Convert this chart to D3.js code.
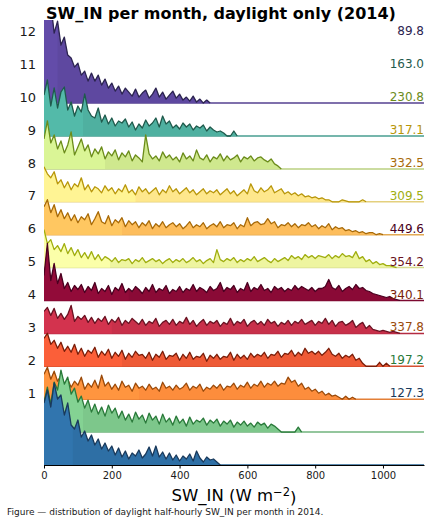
<!DOCTYPE html>
<html lang="en">
<head>
<meta charset="UTF-8">
<title>SW_IN per month</title>
<style>
  body { margin: 0; background: #fff; }
  svg { font-family: "DejaVu Sans", sans-serif; }
</style>
<script src="https://d3js.org/d3.v7.min.js"></script>
</head>
<body>
<div id="chart"></div>
<script>
// histogram counts per month, bins of 10 W m-2 starting at 0
const binWidth = 10;
const months = ["1", "2", "3", "4", "5", "6", "7", "8", "9", "10", "11", "12"];

const jan = [62,75,58,82,66,70,50,62,40,36, 45,28,34,24,30,20,26,16,22,14, 19,10,17,8,14,6,12,9,15,7,
  11,18,9,19,8,13,6,12,5,10, 4,9,6,11,4,14,7,3,8,5, 6,3];
const feb = [30,45,28,50,42,62,48,55,38,44, 30,36,24,32,20,28,18,25,16,27, 19,24,14,21,12,18,10,20,13,17,
  9,19,12,16,8,18,10,14,7,16, 9,13,6,15,8,12,10,14,7,12, 9,13,6,11,8,12,5,10,7,11,
  6,9,5,10,7,9,4,8,6,3, 0,0,0,0,0,5];
const mar = [25,32,20,28,18,24,15,20,12,18, 14,22,10,16,12,19,11,24,13,17, 10,15,9,18,12,14,8,16,11,13,
  9,15,10,12,8,17,11,13,9,14, 10,12,16,9,13,11,15,8,12,10, 14,11,15,9,13,12,16,10,14,12,
  17,11,15,13,18,12,16,14,18,13, 16,15,22,17,19,13,16,10,12,8, 10,6,8,4,6,3,4,2,0,3, 0,2];
const apr = [28,33,22,26,18,24,15,20,14,22, 12,18,10,16,13,19,9,15,11,17, 8,14,10,16,7,13,9,15,11,12,
  8,14,6,12,9,15,7,11,10,13, 6,12,8,14,7,10,9,13,5,11, 8,12,7,10,9,14,6,12,8,11,
  7,13,9,12,10,14,8,12,11,15, 9,13,12,16,10,14,11,18,13,15, 12,15,11,14,18,12,10,13,8,11,
  9,12,6,8,3,0,0,0,0,4, 0,3];
const may = [22,26,18,25,15,20,14,19,28,12, 17,14,18,11,16,10,15,12,17,9, 14,11,16,8,13,10,15,12,9,14,
  8,12,10,15,7,11,13,9,14,8, 12,10,16,9,13,7,11,14,8,12, 10,13,7,11,9,15,8,12,10,14,
  7,11,13,9,12,8,14,10,12,7, 11,9,13,8,12,10,14,9,11,13, 8,12,10,15,9,13,7,11,12,8,
  10,13,6,9,11,5,8,4,3,2, 3,2,1,2,1];
const jun = [25,57,20,37,17,27,12,18,9,15, 11,16,8,14,10,18,7,12,9,15, 6,13,10,17,8,12,9,14,11,7,
  13,9,16,8,12,10,15,7,11,9, 14,8,12,10,16,9,13,11,8,14, 10,12,18,9,13,11,15,8,12,10,
  18,9,13,11,16,10,12,8,14,11, 13,9,12,10,15,11,14,12,10,13, 9,12,12,14,21,13,11,15,9,12,
  14,11,16,12,13,10,9,7,6,5, 4,3,4,2,1];
const jul = [38,24,28,18,22,16,24,14,20,12, 18,10,15,9,16,8,13,7,11,9, 6,10,5,8,7,9,4,8,6,10,
  5,7,9,6,8,4,7,9,5,8, 6,9,5,7,10,6,8,4,7,9, 5,18,8,6,9,7,10,5,8,6,
  9,7,11,6,8,10,7,5,9,6, 8,10,7,12,9,11,8,13,10,12, 9,12,11,10,13,9,12,10,14,11,
  12,10,16,9,11,6,8,4,6,3, 4,2,2,1];
const aug = [28,35,22,30,18,25,16,22,14,20, 12,18,15,21,10,16,23,13,11,19, 9,15,12,17,8,14,10,13,7,12,
  9,14,6,11,8,13,7,10,12,8, 11,6,9,13,7,10,8,12,6,9, 11,8,13,7,10,9,12,6,10,8,
  17,9,12,13,10,11,16,11,13,7, 10,9,12,8,11,7,10,9,12,8, 10,6,9,7,11,5,8,6,7,4,
  5,3,4,2,3,1,2,2,0,1];
const sep = [35,28,24,30,18,22,14,20,12,18, 15,24,12,17,10,15,13,9,16,11, 14,8,13,10,17,9,12,7,15,10,
  13,8,11,14,7,12,9,16,10,13, 8,11,14,9,12,7,10,13,8,11, 9,12,7,10,13,8,11,6,9,12,
  8,18,11,9,14,10,12,16,9,11, 13,8,10,7,9,6,8,5,6,4, 5,3,4,2,2,0,0,0,2,1, 0,0,0,0,2];
const oct = [30,48,26,34,20,28,16,24,37,14, 22,30,18,24,12,20,15,22,10,17, 13,19,9,16,12,18,8,14,11,7,
  34,15,10,13,8,17,11,14,9,12, 7,16,10,13,8,19,11,9,14,7, 12,10,15,8,13,9,11,14,7,12,
  10,13,8,11,12,9,7,10,5,3];
const nov = [41,56,30,48,28,44,49,26,34,20, 30,24,42,26,20,18,28,14,21,12, 18,10,15,13,17,9,14,6,12,8,
  16,10,13,18,9,20,12,15,8,11, 7,13,9,12,6,10,8,11,5,9, 6,4,5,3,0,0,5];
const dec = [95,85,100,70,82,58,66,48,45,36, 40,28,32,22,30,22,28,18,24,15, 20,12,17,9,15,11,7,14,6,10,
  13,5,9,15,6,11,4,8,12,5, 9,3,6,2,7,1,4,0,3];

const monthCounts = [jan, feb, mar, apr, may, jun, jul, aug, sep, oct, nov, dec];

// mean SW_IN per month
const monthMeans = [127.3, 197.2, 337.8, 340.1, 354.2, 449.6, 309.5, 332.5, 317.1, 230.8, 163.0, 89.8];
// value where the lighter part of each fill ends
const lowerQuartiles = [85, 115, 280, 230, 200, 250, 195, 230, 270, 180, 115, 40];

const fillColors = ["#2e6fa5", "#7dc78b", "#fd8d3c", "#ee5a36", "#c8304a", "#8a0a36",
                    "#eef5a0", "#fdbd5c", "#fee78c", "#cfe88e", "#4fb0a0", "#5e48a0"];
const lineColors = ["#1a3a5c", "#2a7a3a", "#9a4a0a", "#7a1e0a", "#6a1222", "#4a0020",
                    "#a0ae10", "#a86a08", "#b8960a", "#6b8c1a", "#1f5a4c", "#2c2450"];

const W = 431, H = 523;
const plot = { left: 44, right: 424, top: 20, bottom: 465 };
const xMax = 1121;
const ridgeStep = 32.9;

const svg = d3.select("#chart").append("svg")
    .attr("width", W)
    .attr("height", H);

const x = d3.scaleLinear().domain([0, xMax]).range([plot.left, plot.right]);
// y in ridge units: ridge i sits at i
const y = d3.scaleLinear()
    .domain([0, (plot.bottom - plot.top) / ridgeStep])
    .range([plot.bottom, plot.top]);
// counts to ridge units
const h = d3.scaleLinear().domain([0, ridgeStep]).range([0, 1]);

svg.append("clipPath").attr("id", "plotClip")
  .append("rect")
    .attr("x", plot.left).attr("y", plot.top)
    .attr("width", plot.right - plot.left).attr("height", plot.bottom - plot.top);

const ridges = svg.append("g").attr("clip-path", "url(#plotClip)");

// top ridge first so the lower ones sit on top
for (let i = monthCounts.length - 1; i >= 0; i--) {
  const counts = monthCounts[i];
  const pts = counts.map((c, k) => ({ v: k * binWidth, c: c }));
  pts.push({ v: counts.length * binWidth, c: 0 });

  const area = d3.area()
      .x(d => x(d.v))
      .y0(y(i))
      .y1(d => y(i + h(d.c)));
  const line = d3.line()
      .x(d => x(d.v))
      .y(d => y(i + h(d.c)));

  const g = ridges.append("g").attr("class", "ridge");

  g.append("line")
      .attr("x1", x(0)).attr("x2", x(xMax))
      .attr("y1", y(i)).attr("y2", y(i))
      .attr("stroke", d3.color(fillColors[i]).darker(0.3))
      .attr("stroke-width", 1.5);

  g.append("path")
      .attr("d", area(pts))
      .attr("fill", fillColors[i]);

  const clipId = "q" + i;
  svg.append("clipPath").attr("id", clipId)
    .append("rect")
      .attr("x", x(0)).attr("y", plot.top)
      .attr("width", x(lowerQuartiles[i]) - x(0))
      .attr("height", plot.bottom - plot.top);
  g.append("path")
      .attr("d", area(pts))
      .attr("clip-path", `url(#${clipId})`)
      .attr("fill", d3.color(fillColors[i]).brighter(0.15));

  g.append("path")
      .attr("d", line(pts))
      .attr("fill", "none")
      .attr("stroke", lineColors[i])
      .attr("stroke-width", 1.3)
      .attr("stroke-linejoin", "round");
}

// month labels on the left
svg.append("g").selectAll("text")
  .data(months)
  .join("text")
    .attr("x", 36)
    .attr("y", (d, i) => y(i + 2.18))
    .attr("dy", "0.35em")
    .attr("text-anchor", "end")
    .style("font-size", "13px")
    .attr("fill", "#1a1a1a")
    .text(d => d);

// monthly means on the right
svg.append("g").selectAll("text")
  .data(monthMeans)
  .join("text")
    .attr("x", plot.right)
    .attr("y", (d, i) => y(i + 2) - 2)
    .attr("text-anchor", "end")
    .style("font-size", "12px")
    .attr("fill", (d, i) => lineColors[i])
    .text(d => d.toFixed(1));

// x axis
const xAxis = svg.append("g")
    .attr("transform", `translate(0,${plot.bottom})`)
    .call(d3.axisBottom(x)
      .tickValues([0, 200, 400, 600, 800, 1000])
      .tickFormat(d3.format("d"))
      .tickSize(3.5)
      .tickSizeOuter(0));
xAxis.select(".domain").attr("stroke", "#000").attr("stroke-width", 1.2);
xAxis.selectAll(".tick line").attr("stroke", "#000");
xAxis.selectAll(".tick text")
    .style("font-size", "10px")
    .style("font-family", "DejaVu Sans, sans-serif")
    .attr("fill", "#1a1a1a");

const xLabel = svg.append("text")
    .attr("x", (plot.left + plot.right) / 2)
    .attr("y", 501)
    .attr("text-anchor", "middle")
    .style("font-size", "16.5px")
    .attr("fill", "#000");
xLabel.append("tspan").text("SW_IN (W m");
xLabel.append("tspan").attr("dy", "-0.45em").style("font-size", "11.5px").text("\u22122");
xLabel.append("tspan").attr("dy", "0.45em").text(")");

// title
svg.append("text")
    .attr("x", 46)
    .attr("y", 19)
    .style("font-size", "16px")
    .style("font-weight", "bold")
    .attr("fill", "#000")
    .text("SW_IN per month, daylight only (2014)");

// caption
svg.append("text")
    .attr("x", 7)
    .attr("y", 515)
    .style("font-size", "9px")
    .attr("fill", "#1a1a1a")
    .text("Figure \u2014 distribution of daylight half-hourly SW_IN per month in 2014.");
</script>
</body>
</html>
